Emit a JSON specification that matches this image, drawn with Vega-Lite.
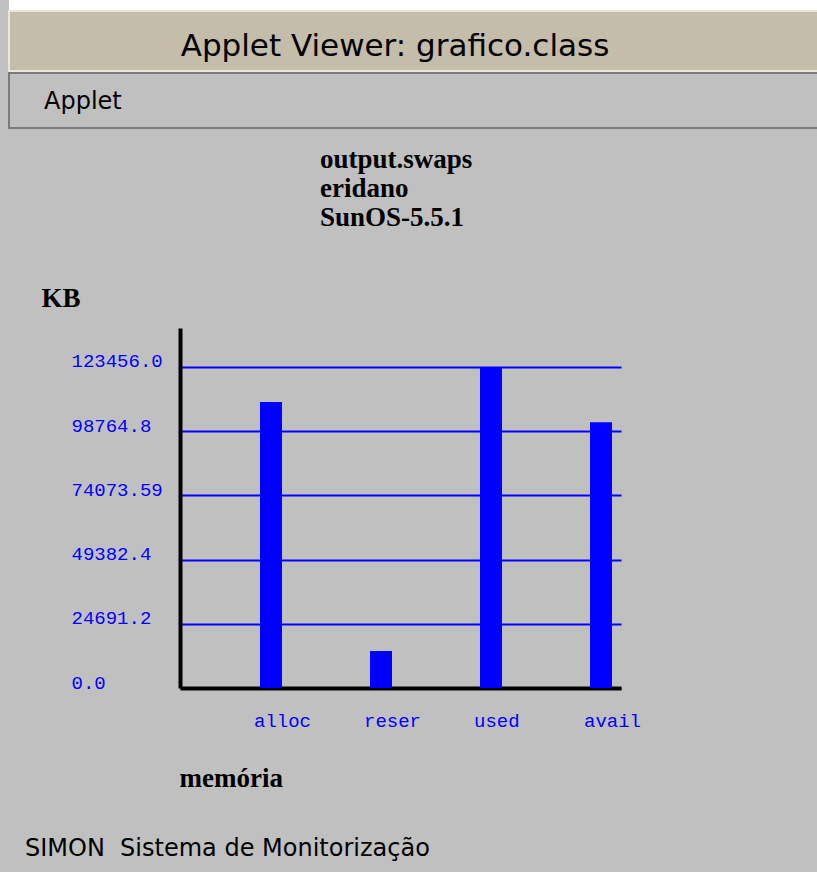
{
  "$schema": "https://vega.github.io/schema/vega-lite/v6.json",
  "background": "#c0c0c0",
  "padding": {"left": 8, "top": 0, "right": 0, "bottom": 0},
  "spacing": 0,
  "config": {"view": {"stroke": null}, "concat": {"spacing": 0}},
  "vconcat": [
    {
      "width": 809, "height": 10,
      "view": {"fill": "#ffffff"},
      "data": {"values": []},
      "mark": "rect",
      "encoding": {}
    },
    {
      "width": 809, "height": 60,
      "view": {"fill": "#c4bdaa", "stroke": "#e9e5da", "strokeWidth": 2},
      "data": {"values": [{"t": "Applet Viewer: grafico.class"}]},
      "mark": {"type": "text", "font": "DejaVu Sans", "fontSize": 31, "color": "#000000", "align": "center", "baseline": "alphabetic", "dx": -18.5, "dy": 15},
      "encoding": {"text": {"field": "t", "type": "nominal"}}
    },
    {
      "width": 809, "height": 55,
      "view": {"fill": "#c0c0c0", "stroke": "#7a7a7a", "strokeWidth": 2},
      "data": {"values": [{"t": "Applet"}]},
      "mark": {"type": "text", "font": "DejaVu Sans", "fontSize": 24, "color": "#000000", "align": "left", "baseline": "alphabetic", "dx": -369.5, "dy": 8.5},
      "encoding": {"text": {"field": "t", "type": "nominal"}}
    },
    {
      "width": 809, "height": 16,
      "data": {"values": []},
      "mark": "rect",
      "encoding": {}
    },
    {
      "spacing": 0,
      "hconcat": [
        {
          "width": 32, "height": 1,
          "data": {"values": []},
          "mark": "rect",
          "encoding": {}
        },
        {
          "width": 441,
          "height": 360,
          "title": {
            "text": ["output.swaps", "eridano", "SunOS-5.5.1"],
            "anchor": "start",
            "frame": "group",
            "dx": 140,
            "font": "Liberation Serif",
            "fontSize": 27,
            "fontWeight": "bold",
            "color": "#000000",
            "lineHeight": 29,
            "offset": 53
          },
          "data": {"values": [
            {"campo": "alloc", "KB": 110000},
            {"campo": "reser", "KB": 14230},
            {"campo": "used", "KB": 123456},
            {"campo": "avail", "KB": 102250}
          ]},
          "mark": {"type": "bar", "color": "#0000ff", "width": 22},
          "encoding": {
            "x": {
              "field": "campo", "type": "nominal", "sort": null,
              "scale": {"paddingInner": 0.8, "paddingOuter": 0.4045, "align": 0.899},
              "axis": {
                "title": "memória",
                "titleFont": "Liberation Serif", "titleFontSize": 27, "titleFontWeight": "bold", "titleColor": "#000000",
                "titleAlign": "left", "titleBaseline": "alphabetic", "titleX": -1, "titleY": 98.5, "titleAnchor": "start",
                "domain": true, "domainColor": "#000000", "domainWidth": 4,
                "ticks": false, "tickSize": 0,
                "labelAngle": 0, "labelFont": "Liberation Mono", "labelFontSize": 19, "labelColor": "#0000ff",
                "labelAlign": "left", "labelBaseline": "alphabetic", "labelPadding": 38.5, "labelOffset": -17
              }
            },
            "y": {
              "field": "KB", "type": "quantitative",
              "scale": {"domain": [0, 138455], "nice": false, "zero": true},
              "axis": {
                "values": [0, 24691.2, 49382.4, 74073.59, 98764.8, 123456],
                "labelExpr": "datum.value === 0 ? '0.0' : datum.value === 123456 ? '123456.0' : toString(datum.value)",
                "title": "KB",
                "titleFont": "Liberation Serif", "titleFontSize": 27, "titleFontWeight": "bold", "titleColor": "#000000",
                "titleAngle": 0, "titleAlign": "left", "titleBaseline": "alphabetic", "titleX": -139, "titleY": -21.5,
                "domain": true, "domainColor": "#000000", "domainWidth": 4,
                "ticks": false, "tickSize": 0,
                "grid": true, "gridColor": "#0000ff", "gridWidth": 2, "gridOpacity": 1,
                "labelFont": "Liberation Mono", "labelFontSize": 19, "labelColor": "#0000ff",
                "labelAlign": "left", "labelBaseline": "alphabetic", "labelPadding": 109,
                "labelOverlap": false, "labelBound": false, "labelFlush": false
              }
            }
          }
        }
      ]
    },
    {
      "width": 809, "height": 30,
      "data": {"values": []},
      "mark": "rect",
      "encoding": {}
    },
    {
      "width": 809, "height": 50,
      "view": {"fill": "#c0c0c0"},
      "data": {"values": [{"t": "SIMON\u00a0 Sistema de Monitorização"}]},
      "mark": {"type": "text", "font": "DejaVu Sans", "fontSize": 24, "color": "#000000", "align": "left", "baseline": "alphabetic", "dx": -388.5, "dy": 9},
      "encoding": {"text": {"field": "t", "type": "nominal"}}
    }
  ]
}
